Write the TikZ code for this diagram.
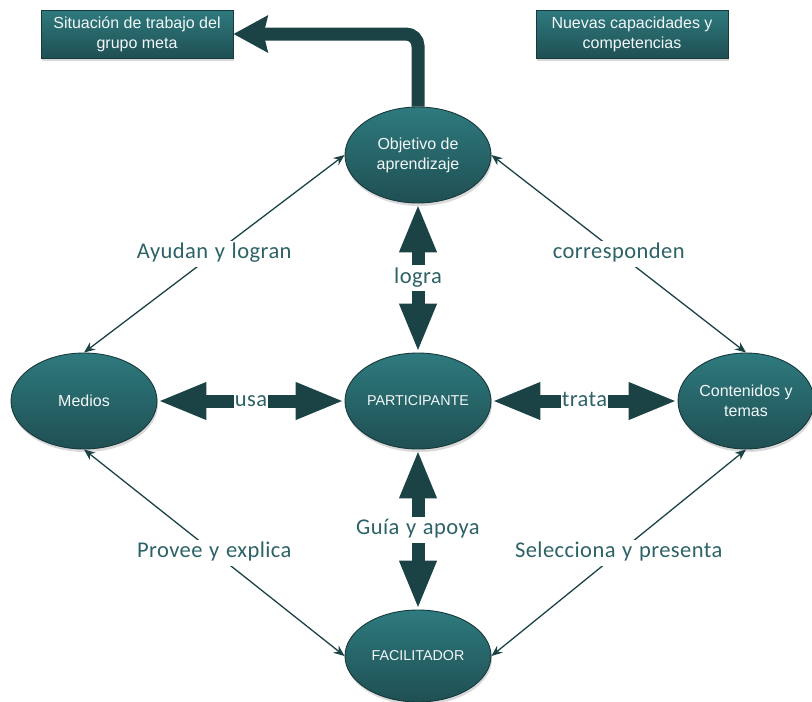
\documentclass[tikz,border=0pt]{standalone}
\usepackage{fontspec}
\setmainfont{Liberation Sans}
\newfontfamily\labelfont[WordSpace=1.2,LetterSpace=2]{Carlito}
\usetikzlibrary{arrows.meta,shapes.geometric,shadows}
\definecolor{tealtop}{HTML}{2E7A7E}
\definecolor{tealbot}{HTML}{1F4F53}
\definecolor{edgec}{HTML}{17393B}
\definecolor{arrowc}{HTML}{1B4345}
\definecolor{labelc}{HTML}{2D6266}
\begin{document}
\begin{tikzpicture}[x=1pt,y=-1pt,
  base/.style={draw=edgec, line width=0.9pt, top color=tealtop, bottom color=tealbot,
    text=white!94!tealtop, font=\fontsize{16}{20}\selectfont, align=center,
    drop shadow={shadow xshift=1pt, shadow yshift=-3pt, opacity=0.3}},
  bubble/.style={base, ellipse, minimum width=146pt, minimum height=96pt, inner sep=0pt},
  banner/.style={base, rectangle, minimum width=192pt, minimum height=48pt, inner sep=0pt},
  capsfont/.style={font=\fontsize{14.3}{17}\selectfont},
  thinlink/.style={draw=arrowc, line width=1.3pt,
    {Stealth[length=11pt,width=9pt]}-{Stealth[length=11pt,width=9pt]}},
  blocklink/.style={draw=arrowc, line width=13pt,
    {Triangle[length=49pt,width=34pt]}-{Triangle[length=49pt,width=34pt]}},
  tag/.style={fill=white, text=labelc, font=\labelfont\fontsize{22.5}{24}\selectfont,
    text height=15pt, text depth=5pt, inner xsep=1pt, inner ysep=3pt},
]
\useasboundingbox (0,0) rectangle (812,702);

% boxes at the top
\node[banner] (sit) at (137,34) {Situación de trabajo del\\grupo meta};
\node[banner] (nue) at (632,34) {Nuevas capacidades y\\competencias};

% ellipses
\node[bubble] (obj) at (418,155) {Objetivo de\\aprendizaje};
\node[bubble, capsfont] (par) at (418,401) {PARTICIPANTE};
\node[bubble] (med) at (84,401) {Medios};
\node[bubble, minimum width=136pt] (con) at (746,401) {Contenidos y\\temas};
\node[bubble, capsfont, minimum height=92pt] (fac) at (418,656) {FACILITADOR};

% bent arrow from the learning objective to the work situation
\draw[draw=arrowc, line width=13pt, rounded corners=12pt,
  -{Stealth[length=34pt,width=36pt,inset=4pt]}]
  (obj.north) -- (obj.north |- sit.east) -- (sit.east);

% block arrows around the participant
\draw[blocklink] (med.east) -- (par.west) node[midway, tag] {usa};
\draw[blocklink] (par.east) -- (con.west) node[midway, tag] {trata};
\draw[blocklink] (obj.south) -- (par.north) node[midway, tag] {logra};
\draw[blocklink] (par.south) -- (fac.north) node[midway, tag] {Guía y apoya};

% thin links on the outer ring
\draw[thinlink] (med.north) -- (obj.west) node[midway, tag] {Ayudan y logran};
\draw[thinlink] (obj.east) -- (con.north) node[midway, tag] {corresponden};
\draw[thinlink] (med.south) -- (fac.west) node[midway, tag] {Provee y explica};
\draw[thinlink] (con.south) -- (fac.east) node[midway, tag] {Selecciona y presenta};
\end{tikzpicture}
\end{document}
